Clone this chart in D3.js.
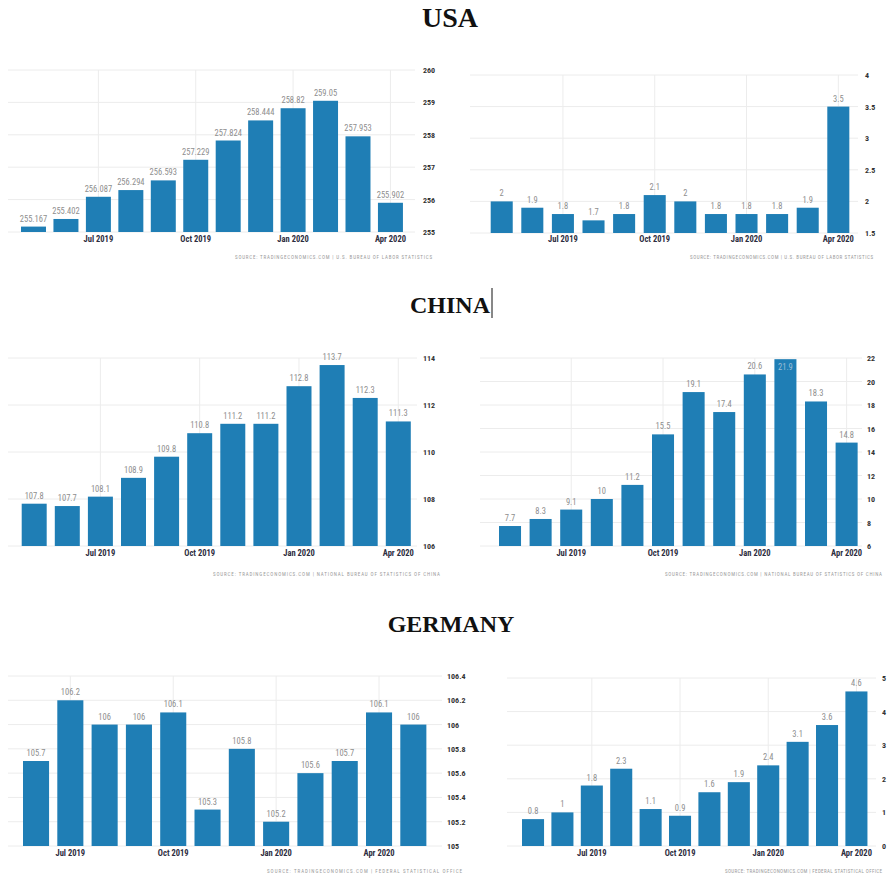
<!DOCTYPE html>
<html>
<head>
<meta charset="utf-8">
<script src="https://cdn.jsdelivr.net/npm/d3@7"></script>
<style>
  html, body { margin: 0; padding: 0; background: #fff; }
  svg { display: block; }
</style>
</head>
<body>
<svg id="chart" width="889" height="879"></svg>
<script>
// ---- Data ----
const monthsMay19 = ["May 2019", "Jun 2019", "Jul 2019", "Aug 2019", "Sep 2019", "Oct 2019",
                     "Nov 2019", "Dec 2019", "Jan 2020", "Feb 2020", "Mar 2020", "Apr 2020"];
const monthsJun19 = ["Jun 2019", "Jul 2019", "Aug 2019", "Sep 2019", "Oct 2019", "Nov 2019",
                     "Dec 2019", "Jan 2020", "Feb 2020", "Mar 2020", "Apr 2020", "May 2020"];
const tickLabels = ["Jul 2019", "Oct 2019", "Jan 2020", "Apr 2020"];

const usaIndex = [255.167, 255.402, 256.087, 256.294, 256.593, 257.229, 257.824, 258.444, 258.82, 259.05, 257.953, 255.902];
const usaRate = [2, 1.9, 1.8, 1.7, 1.8, 2.1, 2, 1.8, 1.8, 1.8, 1.9, 3.5];
const chinaIndex = [107.8, 107.7, 108.1, 108.9, 109.8, 110.8, 111.2, 111.2, 112.8, 113.7, 112.3, 111.3];
const chinaRate = [7.7, 8.3, 9.1, 10, 11.2, 15.5, 19.1, 17.4, 20.6, 21.9, 18.3, 14.8];
const germanyIndex = [105.7, 106.2, 106, 106, 106.1, 105.3, 105.8, 105.2, 105.6, 105.7, 106.1, 106];
const germanyRate = [0.8, 1, 1.8, 2.3, 1.1, 0.9, 1.6, 1.9, 2.4, 3.1, 3.6, 4.6];

const usaIndexTicks = [255, 256, 257, 258, 259, 260];
const usaRateTicks = [1.5, 2, 2.5, 3, 3.5, 4];
const chinaIndexTicks = [106, 108, 110, 112, 114];
const chinaRateTicks = [6, 8, 10, 12, 14, 16, 18, 20, 22];
const germanyIndexTicks = [105, 105.2, 105.4, 105.6, 105.8, 106, 106.2, 106.4];
const germanyRateTicks = [0, 1, 2, 3, 4, 5];

const sourceUSA = "SOURCE: TRADINGECONOMICS.COM | U.S. BUREAU OF LABOR STATISTICS";
const sourceChina = "SOURCE: TRADINGECONOMICS.COM | NATIONAL BUREAU OF STATISTICS OF CHINA";
const sourceGermany = "SOURCE: TRADINGECONOMICS.COM | FEDERAL STATISTICAL OFFICE";

const countryTitles = ["USA", "CHINA", "GERMANY"];

// ---- Layout ----
const BAR = "#1f7eb5";
const GRID = "#ececec";
const SANS = "'Liberation Sans Narrow', 'Roboto Condensed', Roboto, 'Liberation Sans', sans-serif";

const panels = [
  { cats: monthsMay19, vals: usaIndex, ticks: usaIndexTicks, src: sourceUSA,
    L: 21, step: 32.45, pad: 0.23, yTop: 70, yBase: 232, gx0: 8, gx1: 415,
    tickX: 423, axisY: 242, srcX: 432, srcY: 259, srcW: 197 },
  { cats: monthsMay19, vals: usaRate, ticks: usaRateTicks, src: sourceUSA,
    L: 490.7, step: 30.6, pad: 0.28, yTop: 75, yBase: 233, gx0: 470, gx1: 858,
    tickX: 865, axisY: 242, srcX: 873, srcY: 259, srcW: 183 },
  { cats: monthsMay19, vals: chinaIndex, ticks: chinaIndexTicks, src: sourceChina,
    L: 21.7, step: 33.1, pad: 0.245, yTop: 358, yBase: 546, gx0: 8, gx1: 417,
    tickX: 423, axisY: 556, srcX: 440, srcY: 576, srcW: 227 },
  { cats: monthsMay19, vals: chinaRate, ticks: chinaRateTicks, src: sourceChina,
    L: 499, step: 30.6, pad: 0.28, yTop: 358, yBase: 546, gx0: 480, gx1: 862,
    tickX: 867, axisY: 556, srcX: 882, srcY: 576, srcW: 217 },
  { cats: monthsJun19, vals: germanyIndex, ticks: germanyIndexTicks, src: sourceGermany,
    L: 23, step: 34.3, pad: 0.24, yTop: 676, yBase: 846, gx0: 8, gx1: 442,
    tickX: 447, axisY: 856, srcX: 462, srcY: 873, srcW: 195 },
  { cats: monthsMay19, vals: germanyRate, ticks: germanyRateTicks, src: sourceGermany,
    L: 522, step: 29.4, pad: 0.25, yTop: 678, yBase: 846, gx0: 507, gx1: 876,
    tickX: 882, axisY: 856, srcX: 882, srcY: 873, srcW: 157 }
];

const svg = d3.select("#chart");

// ---- Country headings ----
const titleSpecs = [
  { x: 450, y: 27, size: 28 },
  { x: 450, y: 313, size: 24 },
  { x: 451, y: 632, size: 24 }
];
svg.selectAll("text.title")
  .data(countryTitles)
  .join("text")
  .attr("class", "title")
  .attr("x", (d, i) => titleSpecs[i].x)
  .attr("y", (d, i) => titleSpecs[i].y)
  .attr("text-anchor", "middle")
  .attr("font-family", "'Liberation Serif', 'Times New Roman', serif")
  .attr("font-weight", "bold")
  .attr("font-size", (d, i) => titleSpecs[i].size)
  .attr("fill", "#111")
  .text(d => d);

// caret after the second heading
svg.append("line")
  .attr("x1", 492).attr("x2", 492)
  .attr("y1", 288).attr("y2", 318)
  .attr("stroke", "#111").attr("stroke-width", 1);

// ---- Bar panels ----
panels.forEach(p => {
  const n = p.cats.length;
  const a = p.L - (p.pad / 2) * p.step;
  const x = d3.scaleBand()
    .domain(p.cats)
    .range([a, a + n * p.step])
    .paddingInner(p.pad)
    .paddingOuter(p.pad / 2);
  const [lo, hi] = d3.extent(p.ticks);
  const y = d3.scaleLinear().domain([lo, hi]).range([p.yBase, p.yTop]);

  const g = svg.append("g");

  // horizontal grid
  g.selectAll("line.hg").data(p.ticks).join("line")
    .attr("x1", p.gx0).attr("x2", p.gx1)
    .attr("y1", d => y(d)).attr("y2", d => y(d))
    .attr("stroke", GRID).attr("stroke-width", 1);

  // vertical grid at labelled months
  const shown = tickLabels.filter(t => p.cats.includes(t));
  g.selectAll("line.vg").data(shown).join("line")
    .attr("x1", d => x(d) + x.bandwidth() / 2)
    .attr("x2", d => x(d) + x.bandwidth() / 2)
    .attr("y1", y(hi)).attr("y2", p.yBase)
    .attr("stroke", GRID).attr("stroke-width", 1);

  // bars
  g.selectAll("rect").data(p.vals).join("rect")
    .attr("x", (d, i) => x(p.cats[i]))
    .attr("width", x.bandwidth())
    .attr("y", d => y(d))
    .attr("height", d => y(lo) - y(d))
    .attr("fill", BAR);

  // value labels (moved inside the bar when it reaches the top of the scale)
  const inside = d => y(d) < y(hi) + 6;
  g.selectAll("text.val").data(p.vals).join("text")
    .attr("class", "val")
    .attr("x", (d, i) => x(p.cats[i]) + x.bandwidth() / 2)
    .attr("y", d => inside(d) ? y(d) + 11 : y(d) - 5)
    .attr("text-anchor", "middle")
    .attr("font-family", SANS)
    .attr("font-size", 8.5)
    .attr("fill", d => inside(d) ? "#9fbfd6" : "#8e8e8e")
    .text(d => d);

  // y axis (right side)
  const yAxis = d3.axisRight(y).tickValues(p.ticks).tickFormat(d => String(d))
    .tickSize(0).tickPadding(0);
  const ya = svg.append("g")
    .attr("transform", `translate(${p.tickX},0)`)
    .call(yAxis);
  ya.select(".domain").remove();
  ya.selectAll("text")
    .attr("font-family", SANS)
    .attr("font-size", 8)
    .attr("font-weight", "bold")
    .attr("fill", "#333")
    .attr("x", 0)
    .attr("dy", "0.32em");

  // x axis labels
  const xAxis = d3.axisBottom(x).tickValues(shown).tickSize(0).tickPadding(0);
  const xa = svg.append("g")
    .attr("transform", `translate(0,${p.axisY})`)
    .call(xAxis);
  xa.select(".domain").remove();
  xa.selectAll("text")
    .attr("font-family", SANS)
    .attr("font-size", 8.5)
    .attr("font-weight", "bold")
    .attr("fill", "#2d2d40")
    .attr("y", 0)
    .attr("dy", 0);

  // source line
  svg.append("text")
    .attr("x", p.srcX)
    .attr("y", p.srcY)
    .attr("text-anchor", "end")
    .attr("font-family", SANS)
    .attr("font-size", 5)
    .attr("fill", "#9a9a9a")
    .attr("textLength", p.srcW)
    .attr("lengthAdjust", "spacing")
    .text(p.src);
});
</script>
</body>
</html>
